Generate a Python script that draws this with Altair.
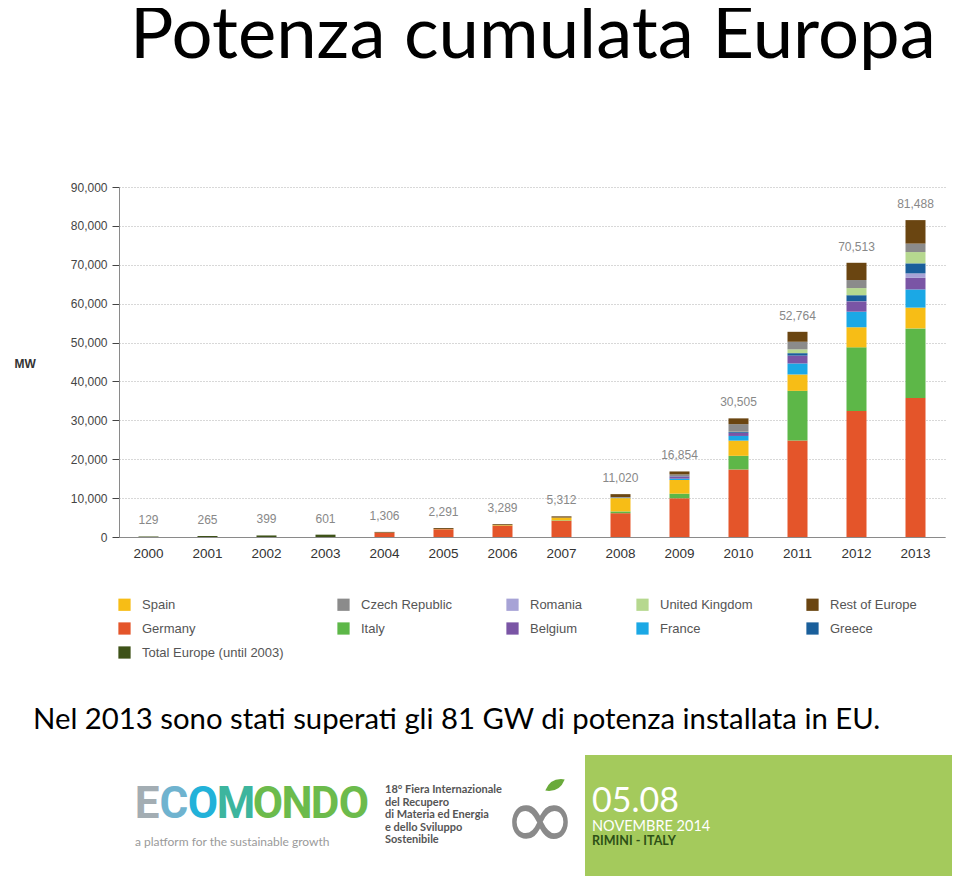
import altair as alt
import pandas as pd

years = [str(y) for y in range(2000, 2014)]
totals = [129, 265, 399, 601, 1306, 2291, 3289, 5312, 11020, 16854, 30505, 52764, 70513, 81488]

total_europe = [129, 265, 399, 601, 0, 0, 0, 0, 0, 0, 0, 0, 0, 0]
germany = [0, 0, 0, 0, 1105, 1980, 2899, 4170, 6120, 9959, 17370, 24807, 32411, 35715]
italy = [0, 0, 0, 0, 0, 0, 0, 120, 458, 1181, 3502, 12773, 16361, 17928]
spain = [0, 0, 0, 0, 23, 48, 146, 705, 3421, 3520, 3915, 4214, 5166, 5340]
france = [0, 0, 0, 0, 0, 0, 0, 0, 104, 335, 1197, 2831, 4003, 4673]
belgium = [0, 0, 0, 0, 0, 0, 0, 0, 71, 574, 803, 2018, 2650, 2983]
romania = [0, 0, 0, 0, 0, 0, 0, 0, 0, 0, 0, 0, 49, 1151]
greece = [0, 0, 0, 0, 0, 0, 0, 0, 0, 55, 205, 631, 1536, 2579]
uk = [0, 0, 0, 0, 0, 0, 0, 0, 0, 0, 77, 976, 1829, 2900]
czech = [0, 0, 0, 0, 0, 0, 0, 0, 65, 463, 1953, 1959, 2072, 2175]
rest = [0, 0, 0, 0, 178, 263, 244, 317, 781, 767, 1483, 2555, 4436, 6044]

# stacking order (bottom -> top)
series = [
    ("Total Europe (until 2003)", total_europe),
    ("Germany", germany),
    ("Italy", italy),
    ("Spain", spain),
    ("France", france),
    ("Belgium", belgium),
    ("Romania", romania),
    ("Greece", greece),
    ("United Kingdom", uk),
    ("Czech Republic", czech),
    ("Rest of Europe", rest),
]

# legend order (row-wise, 5 columns)
legend_order = ["Spain", "Czech Republic", "Romania", "United Kingdom", "Rest of Europe",
                "Germany", "Italy", "Belgium", "France", "Greece", "Total Europe (until 2003)"]
legend_colors = ["#f7bd16", "#8b8b8b", "#a7a3d6", "#b6d88f", "#6a4511",
                 "#e4552a", "#5db748", "#7a55a5", "#1ba8e5", "#1a5f9b", "#3e5218"]

rows = []
for rank, (name, vals) in enumerate(series):
    for y, v in zip(years, vals):
        if v > 0:
            rows.append({"year": y, "country": name, "value": v, "rank": rank})
df = pd.DataFrame(rows)
tot_df = pd.DataFrame({"year": years, "total": totals})

FONT = "Liberation Sans"

x_axis = alt.Axis(labelAngle=0, ticks=False, domainColor="#8a8a8a",
                  labelFontSize=13.5, labelColor="#333333", labelPadding=9,
                  labelFont=FONT)
x_scale = alt.Scale(paddingInner=0.66, paddingOuter=0.33)
y_scale = alt.Scale(domain=[0, 90000], nice=False)
y_axis = alt.Axis(values=list(range(0, 90001, 10000)), format=",.0f",
                  labelOverlap=False,
                  grid=True, gridDash=[1, 2], gridColor="#b0b0b0",
                  tickColor="#444444", tickSize=7, domainColor="#8a8a8a",
                  labelFontSize=12, labelColor="#444444", labelPadding=5,
                  labelFont=FONT,
                  title="MW", titleAngle=0, titleX=-105, titleY=176,
                  titleAlign="left", titleBaseline="middle",
                  titleFontSize=12, titleFontWeight="bold", titleFont=FONT,
                  titleColor="#333333")

bars = alt.Chart(df).mark_bar(size=20).encode(
    x=alt.X("year:O", title=None, scale=x_scale, axis=x_axis),
    y=alt.Y("value:Q", stack="zero", title="MW", scale=y_scale, axis=y_axis),
    color=alt.Color("country:N",
                    scale=alt.Scale(domain=legend_order, range=legend_colors),
                    legend=alt.Legend(orient="none", legendX=-1, legendY=411,
                                      direction="horizontal",
                                      columns=5, columnPadding=53, rowPadding=10,
                                      symbolType="square", symbolSize=150,
                                      symbolStrokeWidth=0, labelFontSize=13,
                                      labelColor="#555555", labelFont=FONT,
                                      labelOffset=11, labelLimit=300, title=None)),
    order=alt.Order("rank:Q", sort="ascending"),
)

labels = alt.Chart(tot_df).mark_text(baseline="bottom", dy=-9, fontSize=12,
                                     color="#888888", font=FONT).encode(
    x=alt.X("year:O", title=None, scale=x_scale, axis=x_axis),
    y=alt.Y("total:Q", title="MW", scale=y_scale, axis=y_axis),
    text=alt.Text("total:Q", format=","),
)


def deco_text(txt, x, y, size, color, font="Lato", weight="normal", align="left",
              baseline="alphabetic", line_height=None):
    kw = dict(align=align, baseline=baseline, fontSize=size, color=color,
              font=font, fontWeight=weight)
    if line_height is not None:
        kw["lineBreak"] = "\n"
        kw["lineHeight"] = line_height
    return alt.Chart(pd.DataFrame({"t": [txt]})).mark_text(**kw).encode(
        x=alt.value(x), y=alt.value(y), text="t:N")


title = deco_text("Potenza cumulata Europa", 11, -129, 72.5, "#000000")
subtitle = deco_text("Nel 2013 sono stati superati gli 81 GW di potenza installata in EU.",
                     -86, 542, 29.3, "#000000")

banner = alt.Chart(pd.DataFrame({"a": [1]})).mark_rect(color="#a4ca5c").encode(
    x=alt.value(466), x2=alt.value(834), y=alt.value(568), y2=alt.value(691))

date1 = deco_text("05.08", 473, 625, 34, "#ffffff")
date2 = deco_text("NOVEMBRE 2014", 473, 644, 14.5, "#ffffff")
date3 = deco_text("RIMINI - ITALY", 473, 658, 12.5, "#2d5016", weight="bold")

LOGO_FONT = "Roboto"
letters = [("E", 147, "#a3adb3"), ("C", 174, "#6fb3cf"), ("O", 203, "#22b2d9"),
           ("M", 236, "#3db59e"), ("O", 268, "#6cbb4c"), ("N", 297, "#6cbb4c"),
           ("D", 325, "#6cbb4c"), ("O", 354, "#6cbb4c")]
logo_layers = [deco_text(ch, px - 119, 631, 44, col, font=LOGO_FONT, weight="bold",
                         align="center") for ch, px, col in letters]
tagline = deco_text("a platform for the sustainable growth", 16, 659, 12, "#9a9a9a")
fiera = deco_text("18° Fiera Internazionale\ndel Recupero\ndi Materia ed Energia\ne dello Sviluppo\nSostenibile",
                  266, 606, 11, "#555555", weight="bold", line_height=12.5)
infinity = deco_text("∞", 421, 662, 90, "#8a8a8a", font="DejaVu Sans", align="center")
leaf = alt.Chart(pd.DataFrame({"a": [1]})).mark_point(
    shape="M-1,0 Q0,-0.8 1,0 Q0,0.8 -1,0 Z", filled=True, color="#6aaa3a",
    size=500, opacity=1, angle=330).encode(x=alt.value(436), y=alt.value(598))

chart = alt.layer(bars, labels, title, subtitle, banner, date1, date2, date3,
                  *logo_layers, tagline, fiera, infinity, leaf).resolve_scale(
    x="shared", y="shared").properties(
    width=826, height=350,
    autosize=alt.AutoSizeParams(type="none"),
    padding={"left": 111, "top": 179, "right": 7, "bottom": 339},
).configure_view(stroke=None)

chart.save("out.html", embed_options={"renderer": "svg", "actions": False})
